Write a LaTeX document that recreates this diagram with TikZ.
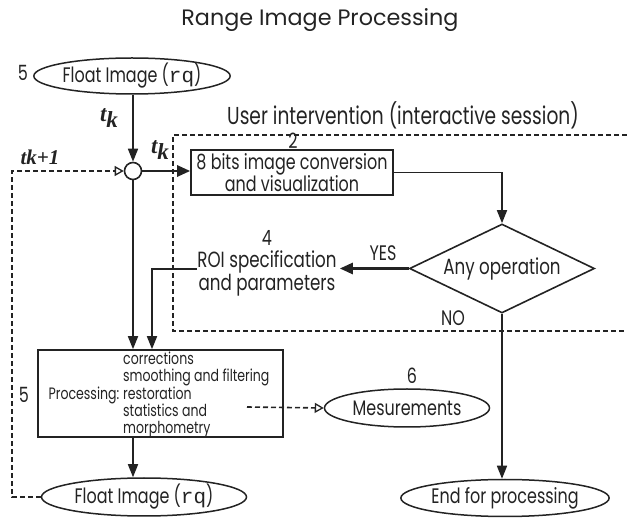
\documentclass[tikz,border=0pt]{standalone}
\usepackage{fontspec}
\setmainfont{Poppins}
\newfontfamily\cf[FakeStretch=0.76]{Poppins}
\newfontfamily\monof{Liberation Mono}
\newfontfamily\tkfont{Liberation Serif}
\usetikzlibrary{arrows.meta,shapes.geometric}
\definecolor{ink}{RGB}{35,35,35}
\tikzset{
  lbl/.style={inner sep=0pt, text=ink, font=\cf\fontsize{21}{23}\selectfont},
  small/.style={inner sep=0pt, text=ink, font=\cf\fontsize{16.5}{17}\selectfont},
  oval/.style={ellipse, draw=ink, line width=1.5pt, inner sep=0pt, text=ink, font=\cf\fontsize{21}{23}\selectfont},
  boxx/.style={rectangle, draw=ink, inner sep=0pt, text=ink},
  arr/.style={draw=ink, line width=1.7pt, -{Triangle[length=13pt,width=10pt]}},
  thickarr/.style={draw=ink, line width=2.6pt, -{Triangle[length=13pt,width=11pt]}},
  dsh/.style={draw=ink, line width=1.6pt, dash pattern=on 5pt off 3pt},
  opentip/.style={-{Triangle[open,length=9pt,width=10pt,line width=1.3pt]}},
  tkl/.style={inner sep=0pt, text=ink, font=\tkfont\bfseries\itshape\fontsize{23}{25}\selectfont}
}
\begin{document}
\begin{tikzpicture}[x=1pt,y=-1pt]
\useasboundingbox (0,0) rectangle (627,518);
% title
\node[inner sep=0pt, text=ink, font=\fontsize{22.3}{24}\selectfont] (title) at (320,20) {Range Image Processing};
% top float image
\node[oval, minimum width=192, minimum height=36] (f1) at (132,76) {Float Image ({\monof rq})};
\node[lbl] (n5a) at (23,73) {5};
\node[tkl] (tka) at (109,118) {t\raisebox{-6pt}{k}};
\node[tkl, font=\tkfont\bfseries\itshape\fontsize{21}{23}\selectfont] (tkb) at (40,157) {tk+1};
\node[circle, draw=ink, line width=1.6pt, minimum size=17, inner sep=0pt] (c) at (133,171) {};
\node[tkl] (tkc) at (160,150) {t\raisebox{-6pt}{k}};
% user intervention
\node[lbl, font=\cf\fontsize{24.5}{26}\selectfont] (ui) at (403,115) {User intervention (interactive session)};
\draw[dsh] (627,135) -- (173,135) -- (173,331) -- (627,331);
% box 2
\node[boxx, line width=1.6pt, minimum width=202, minimum height=45, align=center, font=\cf\fontsize{21}{22}\selectfont] (b2) at (292,172.5) {8 bits image conversion\\and visualization};
\node[lbl] (n2) at (293,141) {2};
% diamond
\node[diamond, draw=ink, line width=1.6pt, aspect=2, minimum width=185, minimum height=89, inner sep=0pt, text=ink, font=\cf\fontsize{22}{24}\selectfont] (d) at (502,268.5) {Any operation};
% ROI
\node[lbl, align=center, font=\cf\fontsize{22}{23}\selectfont] (roi) at (267,273.5) {ROI specification\\and parameters};
\node[lbl] (n4) at (267,238) {4};
\node[lbl] (yes) at (383,253) {YES};
\node[lbl] (no) at (453,318) {NO};
% processing box
\node[boxx, line width=1.6pt, minimum width=245, minimum height=87] (p) at (160.5,393.5) {};
\node[small, anchor=east] (pl) at (119.5,395) {Processing:};
\node[small, anchor=west, align=left] (plist) at (123,394.5) {corrections\\smoothing and filtering\\restoration\\statistics and\\morphometry};
\node[lbl] (n5b) at (24,395) {5};
% measurements
\node[oval, minimum width=165, minimum height=38] (m) at (407,408) {Mesurements};
\node[lbl] (n6) at (412,376) {6};
% bottom ellipses
\node[oval, minimum width=205, minimum height=38] (f2) at (144,497) {Float Image ({\monof rq})};
\node[oval, minimum width=180, minimum height=37] (e) at (505,498) {End for processing};
% connectors
\draw[arr] (c.north |- f1.south) -- (c.north);
\draw[thickarr] (c.east) -- (c.east -| b2.west);
\draw[arr] (b2.east) -| (d.north);
\draw[thickarr] (d.west) -- ([xshift=3pt]roi.east |- d.west);
\draw[arr] ([yshift=4.5pt]roi.west) -| ([xshift=-8.5pt]p.north);
\draw[arr] (c.south) -- (c.south |- p.north);
\draw[arr] (c |- p.south) -- (c |- f2.north);
\draw[arr] (d.south) -- (d.south |- e.north);
\coordinate (lc) at (12,171);
\draw[dsh, opentip] (f2.west) -| (lc) -- (c.west);
\coordinate (ps) at (247,407);
\draw[dsh, opentip] (ps) -- (m.west);
\end{tikzpicture}
\end{document}
